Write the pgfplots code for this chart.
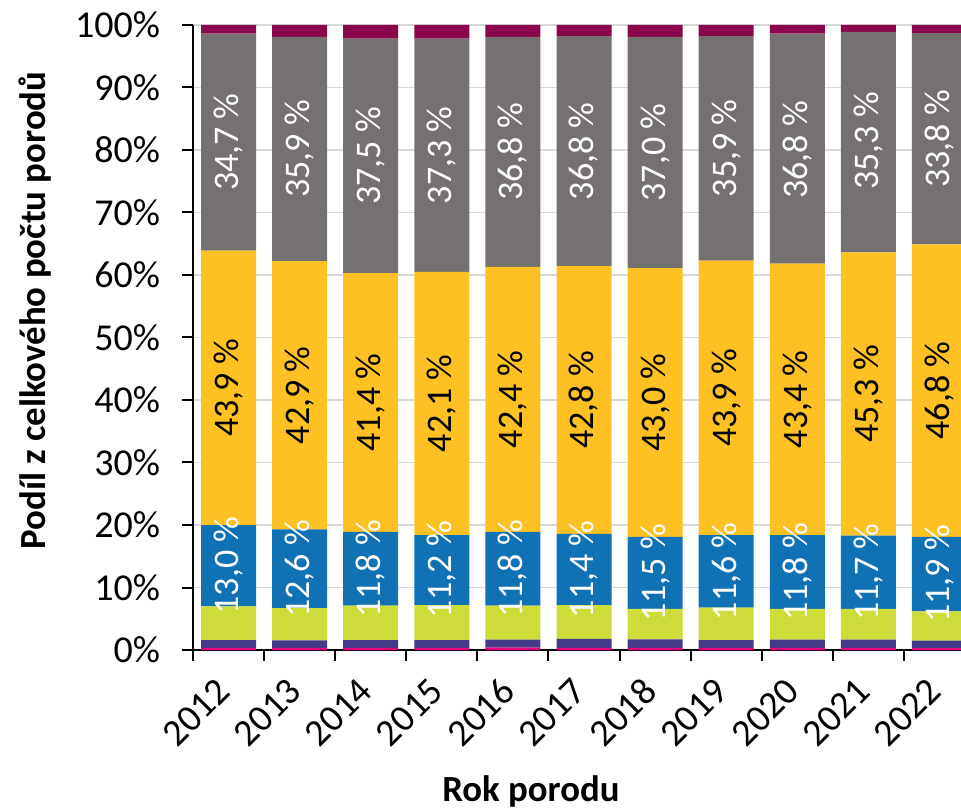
\documentclass[border=0pt]{standalone}
\usepackage{pgfplots}
\pgfplotsset{compat=1.18}
\usepackage{pgfplotstable}
\usepackage{fontspec}
\setmainfont{Carlito}
\usetikzlibrary{calc}
\definecolor{cPink}{HTML}{E5007D}
\definecolor{cPurple}{HTML}{433A8A}
\definecolor{cGreen}{HTML}{CDDC39}
\definecolor{cBlue}{HTML}{1071B4}
\definecolor{cYellow}{HTML}{FDC124}
\definecolor{cGray}{HTML}{767171}
\definecolor{cTop}{HTML}{8B074B}
\definecolor{gridgray}{HTML}{D9D9D9}
\pgfplotstableread{
x pink purple green blue yellow gray top cb cy cg
0 0.35 1.25 5.40 13.0 43.9 34.7 1.40 13.50 41.95 81.25
1 0.35 1.20 5.15 12.6 42.9 35.9 1.90 13.00 40.75 80.15
2 0.35 1.25 5.50 11.8 41.4 37.5 2.20 13.00 39.60 79.05
3 0.35 1.25 5.60 11.2 42.1 37.3 2.20 12.80 39.45 79.15
4 0.37 1.30 5.43 11.8 42.4 36.8 1.90 13.00 40.10 79.70
5 0.35 1.45 5.40 11.4 42.8 36.8 1.80 12.90 40.00 79.80
6 0.35 1.35 4.90 11.5 43.0 37.0 1.90 12.35 39.60 79.60
7 0.35 1.25 5.20 11.6 43.9 35.9 1.80 12.60 40.35 80.25
8 0.35 1.30 4.95 11.8 43.4 36.8 1.40 12.50 40.10 80.00
9 0.35 1.30 4.95 11.7 45.3 35.3 1.10 12.45 40.95 81.45
10 0.30 1.20 4.70 11.9 46.8 33.8 1.30 12.15 41.50 81.80
}\data
\newcommand{\bigf}{\fontsize{18bp}{21bp}\selectfont}
\newcommand{\tickf}{\fontsize{19bp}{22bp}\selectfont}
\newcommand{\titlef}{\fontsize{18.4bp}{22bp}\selectfont\bfseries}
\begin{document}
\begin{tikzpicture}
\pgfplotsset{
  common/.style={width=384bp, height=312.5bp, scale only axis,
    xmin=-0.5, xmax=10.303, ymin=0, ymax=100},
}
\begin{axis}[common, name=main,
  ybar stacked, bar width=27.5bp,
  axis x line*=bottom, axis y line*=left,
  axis line style={line width=1bp, black},
  ymajorgrids, grid style={color=gridgray, line width=0.75bp},
  /pgf/number format/assume math mode=true,
  ytick={0,10,...,100},
  yticklabels={0\%,10\%,20\%,30\%,40\%,50\%,60\%,70\%,80\%,90\%,100\%},
  yticklabel style={font=\tickf, xshift=-7.5bp},
  xtick={-0.5,0.5,...,9.5}, xticklabels={},
  extra x ticks={0,1,...,10},
  extra x tick labels={2012,2013,2014,2015,2016,2017,2018,2019,2020,2021,2022},
  extra x tick style={major tick length=0pt, tick style={draw=none}},
  xticklabel shift=15bp,
  xticklabel style={font=\tickf, rotate=45, anchor=east},
  tick align=outside, major tick length=5.5bp,
  tick style={line width=1bp, black},
  ylabel={Podíl z celkového počtu porodů},
  ylabel style={font=\titlef, at={(axis description cs:-0.2057,0.543)}, anchor=center},
  xlabel={Rok porodu},
  xlabel style={font=\titlef, at={(axis description cs:0.44,-0.227)}, anchor=center},
]
\addplot[fill=cPink, draw=none] table[x=x, y=pink]{\data};
\addplot[fill=cPurple, draw=none] table[x=x, y=purple]{\data};
\addplot[fill=cGreen, draw=none] table[x=x, y=green]{\data};
\addplot[fill=cBlue, draw=none] table[x=x, y=blue]{\data};
\addplot[fill=cYellow, draw=none] table[x=x, y=yellow]{\data};
\addplot[fill=cGray, draw=none] table[x=x, y=gray]{\data};
\addplot[fill=cTop, draw=none] table[x=x, y=top]{\data};
\end{axis}
\begin{axis}[common, hide axis,
  /pgf/number format/assume math mode=true,
  nodes near coords={\pgfmathprintnumber[fixed,fixed zerofill,precision=1,use comma]{\pgfplotspointmeta}~\%},
  every node near coord/.append style={rotate=90, anchor=center, font=\bigf, inner sep=0pt},
]
\addplot[draw=none, point meta=\thisrow{blue}, every node near coord/.append style={text=white}] table[x=x, y=cb]{\data};
\addplot[draw=none, point meta=\thisrow{yellow}, every node near coord/.append style={text=black}] table[x=x, y=cy]{\data};
\addplot[draw=none, point meta=\thisrow{gray}, every node near coord/.append style={text=white}] table[x=x, y=cg]{\data};
\end{axis}
\pgfresetboundingbox
\path ($(main.south west)+(-96.5bp,-80bp)$) rectangle ($(main.north east)+(0bp,12.5bp)$);
\end{tikzpicture}
\end{document}
